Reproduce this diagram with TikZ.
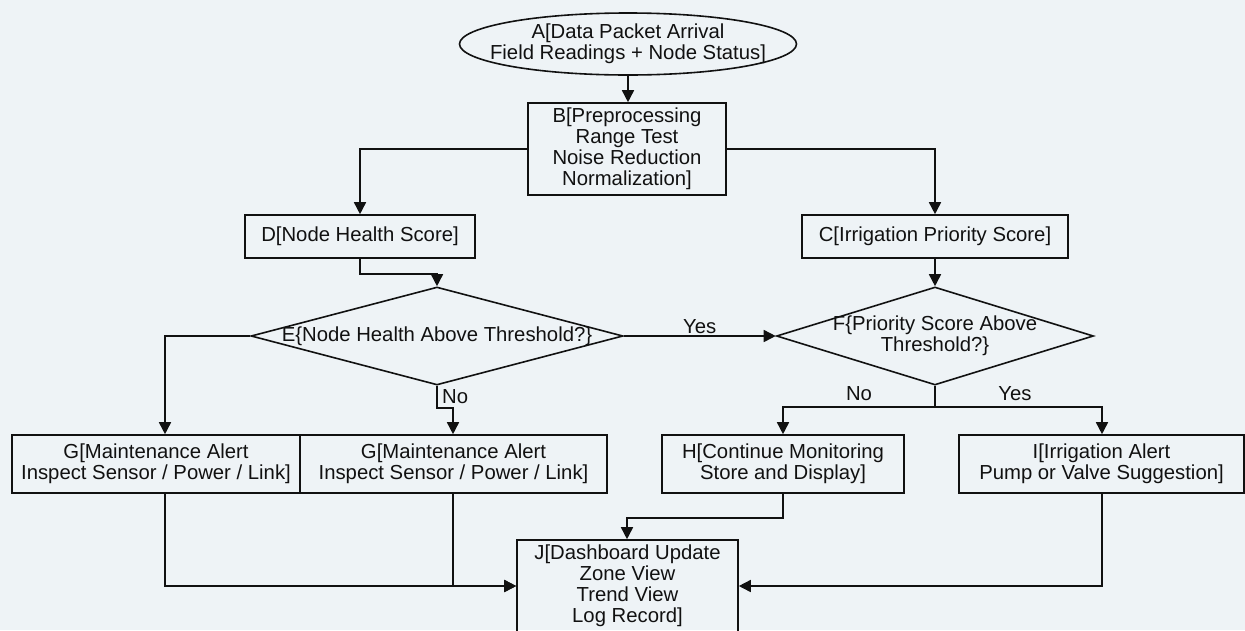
\documentclass[tikz,border=0pt]{standalone}
\usepackage{fontspec}
\setmainfont{Liberation Sans}
\usetikzlibrary{shapes.geometric,arrows.meta}
\definecolor{bg}{HTML}{EEF3F6}
\definecolor{ink}{HTML}{111111}
\begin{document}
\begin{tikzpicture}[x=1pt,y=-1pt,
  every node/.style={font=\fontsize{20.3}{21}\selectfont, text=ink},
  box/.style={draw=ink, line width=1.6pt, rectangle, inner sep=0pt, align=center},
  dia/.style={draw=ink, line width=1.6pt, diamond, inner sep=0pt},
  oval/.style={draw=ink, line width=1.6pt, ellipse, inner sep=0pt},
  arr/.style={draw=ink, line width=1.6pt, -{Triangle[length=12pt,width=12pt]}},
  ln/.style={draw=ink, line width=1.6pt},
  lbl/.style={inner sep=0pt}]
\fill[bg] (0,0) rectangle (1245,630);
\useasboundingbox (0,0) rectangle (1245,630);

\node[oval, minimum width=337pt, minimum height=62pt] (A) at (628,44) {};
\node[align=center, inner sep=0pt] (At) at (A.center) {A[Data Packet Arrival\\Field Readings + Node Status]};
\node[box, minimum width=198pt, minimum height=92pt] (B) at (627,149) {B[Preprocessing\\Range Test\\Noise Reduction\\Normalization]};
\node[box, minimum width=230pt, minimum height=43pt] (D) at (360,236.5) {D[Node Health Score]};
\node[box, minimum width=266pt, minimum height=43pt] (C) at (935,236.5) {C[Irrigation Priority Score]};
\node[dia, minimum width=372pt, minimum height=98pt] (E) at (437,336) {};
\node[inner sep=0pt] (Et) at (E.center) {E\{Node Health Above Threshold?\}};
\node[dia, minimum width=317pt, minimum height=98pt] (F) at (935,336) {};
\node[align=center, inner sep=0pt] (Ft) at (F.center) {F\{Priority Score Above\\Threshold?\}};
\node[box, minimum width=288pt, minimum height=58pt] (G1) at (156,464) {G[Maintenance Alert\\Inspect Sensor / Power / Link]};
\node[box, minimum width=307pt, minimum height=58pt] (G2) at (453.5,464) {G[Maintenance Alert\\Inspect Sensor / Power / Link]};
\node[box, minimum width=242pt, minimum height=58pt] (H) at (783,464) {H[Continue Monitoring\\Store and Display]};
\node[box, minimum width=285pt, minimum height=58pt] (I) at (1101.5,464) {I[Irrigation Alert\\Pump or Valve Suggestion]};
\node[box, minimum width=221pt, minimum height=92pt] (J) at (627.5,586) {J[Dashboard Update\\Zone View\\Trend View\\Log Record]};

\draw[arr] (A.south) -- (A.south |- B.north);
\draw[arr] (B.west) -| (D.north);
\draw[arr] (B.east) -| (C.north);
\draw[arr] (C.south) -- (F.north);
\draw[arr] (D.south) -- ++(0,15) -| (E.north);
\draw[arr] (E.west) -| ([xshift=9pt]G1.north);
\draw[arr] (E.east) -- node[midway, above=2pt, lbl] (yes1) {Yes} (F.west);
\draw[arr] (E.south) -- ++(0,22) -| ([xshift=-0.5pt]G2.north);
\node[lbl, anchor=west] (no1) at (442,397) {No};
\draw[ln] (F.south) -- ++(0,21) coordinate (fj);
\draw[arr] (fj) -| (H.north);
\draw[arr] (fj) -| ([xshift=0.5pt]I.north);
\node[lbl] (no2) at (859,394) {No};
\node[lbl] (yes2) at (1015,394) {Yes};
\draw[arr] ([xshift=9pt]G1.south) |- (J.west);
\draw[arr] ([xshift=-0.5pt]G2.south) |- (J.west);
\draw[arr] (H.south) -- ++(0,24) -| ([xshift=-0.5pt]J.north);
\draw[arr] ([xshift=0.5pt]I.south) |- (J.east);
\end{tikzpicture}
\end{document}
